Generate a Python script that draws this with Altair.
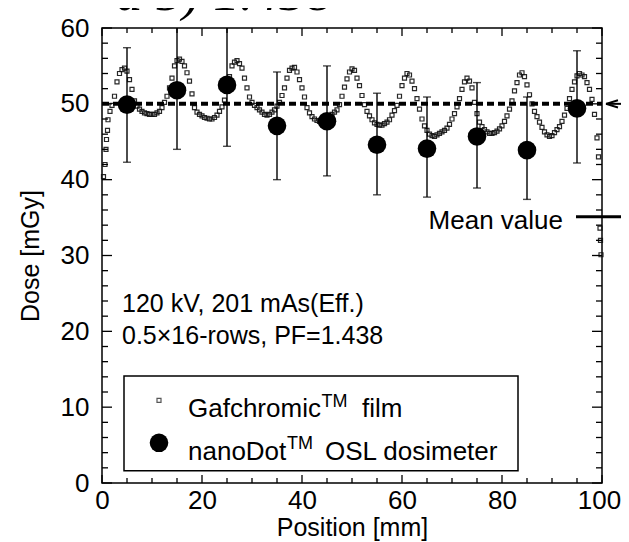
import altair as alt
import pandas as pd

FONT = "Liberation Sans"

# ---------------- data ----------------
# Gafchromic film profile (dose in mGy vs position in mm)
film_edge_x = [0.3, 0.6, 0.8, 0.9, 1.1, 1.2, 1.6]
film_edge_y = [40.4, 42.0, 44.0, 45.3, 46.5, 47.9, 49.0]
# regular 0.5 mm samples from 2.0 mm to 99.0 mm
film_grid_y = [
    49.8, 51.0, 52.9, 54.0, 54.5, 54.7,
    54.3, 53.2, 51.9, 50.4, 49.7, 49.3, 49.0, 48.8, 48.7, 48.6,
    48.6, 48.6, 48.8, 49.0, 49.5, 50.2, 51.0, 52.1, 53.4, 55.0,
    55.7, 55.9, 55.6, 55.0, 54.1, 53.0, 51.3, 49.5, 48.9, 48.6,
    48.4, 48.2, 48.1, 48.0, 48.0, 48.2, 48.5, 49.0, 49.6, 50.5,
    51.8, 53.6, 55.0, 55.5, 55.7, 55.3, 54.7, 53.4, 52.1, 50.9,
    50.2, 49.8, 49.5, 49.2, 48.9, 48.6, 48.5, 48.6, 48.9, 49.2,
    49.7, 50.2, 51.1, 52.1, 53.4, 54.4, 54.7, 54.8, 54.2, 53.2,
    52.1, 50.9, 49.5, 48.8, 48.3, 48.0, 47.8, 47.7, 47.7, 47.8,
    48.0, 48.3, 48.6, 48.9, 49.2, 49.9, 51.0, 52.2, 53.3, 54.2,
    54.6, 54.4, 53.4, 52.4, 51.1, 49.9, 49.0, 48.4, 47.9, 47.5,
    47.3, 47.2, 47.2, 47.4, 47.6, 47.9, 48.5, 49.1, 49.8, 51.0,
    52.4, 53.4, 54.0, 53.8, 53.0, 52.0, 50.7, 49.3, 48.0, 47.1,
    46.5, 46.0, 45.8, 45.7, 45.9, 46.1, 46.3, 46.5, 46.8, 47.3,
    48.0, 48.7, 49.6, 50.7, 51.9, 52.9, 53.4, 53.0, 52.1, 50.2,
    48.7, 47.6, 47.0, 46.6, 46.3, 46.1, 46.1, 46.2, 46.4, 46.7,
    47.1, 47.7, 48.4, 49.3, 50.4, 51.7, 52.8, 53.8, 54.1, 53.6,
    52.5, 51.2, 50.0, 49.0, 48.3, 47.6, 46.9, 46.3, 45.9, 45.7,
    45.8, 46.2, 46.6, 47.0, 47.7, 48.5, 49.4, 50.7, 51.9, 52.9,
    53.7, 54.0, 53.8, 53.6, 52.8, 51.9, 50.6, 48.6, 45.5,
]
film_tail_x = [99.3, 99.6, 99.7, 99.8]
film_tail_y = [43.0, 33.6, 32.0, 30.1]

# nanoDot OSL dosimeter readings with error bars
osl_x = [5, 15, 25, 35, 45, 55, 65, 75, 85, 95]
osl_y = [49.9, 51.8, 52.5, 47.1, 47.7, 44.6, 44.1, 45.7, 43.9, 49.4]
osl_lo = [42.3, 44.0, 44.4, 40.0, 40.5, 38.0, 37.7, 38.9, 37.4, 42.2]
osl_hi = [57.4, 60.5, 60.5, 54.2, 55.0, 51.4, 50.9, 52.8, 50.9, 57.0]

mean_value = 50.0

x_ticks = [0, 20, 40, 60, 80, 100]
y_ticks = [0, 10, 20, 30, 40, 50, 60]

# ---------------- tables ----------------
film_grid_x = [2.0 + 0.5 * i for i in range(len(film_grid_y))]
film = pd.DataFrame({
    "x": film_edge_x + film_grid_x + film_tail_x,
    "y": film_edge_y + film_grid_y + film_tail_y,
})
osl = pd.DataFrame({"x": osl_x, "y": osl_y, "lo": osl_lo, "hi": osl_hi})

# inward tick segments of the frame (in data units)
px_x = 100 / 500.0   # mm per pixel
px_y = 60 / 455.0    # mGy per pixel
segs = []
for v in range(0, 61, 2):
    L = 10 if v % 10 == 0 else 6
    segs.append({"x": 0, "x2": L * px_x, "y": v, "y2": v})
    segs.append({"x": 100, "x2": 100 - L * px_x, "y": v, "y2": v})
for v in range(0, 101, 5):
    L = 8 if v % 20 == 0 else 5
    segs.append({"x": v, "x2": v, "y": 0, "y2": L * px_y})
    segs.append({"x": v, "x2": v, "y": 60, "y2": 60 - L * px_y})
ticks = pd.DataFrame(segs)

xs = alt.Scale(domain=[0, 100], nice=False, zero=False)
ys = alt.Scale(domain=[0, 60], nice=False, zero=False)

X = alt.X("x:Q", scale=xs, axis=alt.Axis(
    values=x_ticks, ticks=False, domain=False, grid=False, labelPadding=4,
    labelFlush=False, labelFont=FONT, labelFontSize=26, labelColor="black",
    labelOffset={"expr": "datum.value == 100 ? -3 : 0"},
    title="Position [mm]", titleFont=FONT, titleFontSize=25, titleFontWeight="normal",
    titleColor="black", titleX=250, titleY=52, titleBaseline="alphabetic",
    titleAlign="center"))
Y = alt.Y("y:Q", scale=ys, axis=alt.Axis(
    values=y_ticks, ticks=False, domain=False, grid=False, labelPadding=13,
    labelFlush=False, labelFont=FONT, labelFontSize=26, labelColor="black",
    title="Dose [mGy]", titleFont=FONT, titleFontSize=25, titleFontWeight="normal",
    titleColor="black", titleX=-72, titleY=227.5, titleAngle=270,
    titleBaseline="middle", titleAlign="center"))

base_x = alt.X("x:Q", scale=xs)
base_y = alt.Y("y:Q", scale=ys)

film_layer = alt.Chart(film).mark_point(
    shape="square", filled=False, size=16, strokeWidth=1.2, color="#111", opacity=0.9
).encode(x=X, y=Y)

mean_line = alt.Chart(pd.DataFrame({"x": [0], "x2": [100], "y": [mean_value]})).mark_rule(
    color="black", strokeWidth=4, strokeDash=[7, 4]
).encode(x=base_x, x2="x2:Q", y=base_y)

err = alt.Chart(osl).mark_rule(color="black", strokeWidth=1.4, clip=True).encode(
    x=base_x, y=alt.Y("lo:Q", scale=ys), y2="hi:Q")
cap_lo = alt.Chart(osl).mark_tick(color="black", orient="horizontal", size=8,
                                  thickness=1.4, clip=True).encode(
    x=base_x, y=alt.Y("lo:Q", scale=ys))
cap_hi = alt.Chart(osl).mark_tick(color="black", orient="horizontal", size=8,
                                  thickness=1.4, clip=True).encode(
    x=base_x, y=alt.Y("hi:Q", scale=ys))
dots = alt.Chart(osl).mark_circle(size=346, color="black", opacity=1).encode(
    x=base_x, y=base_y)

tick_layer = alt.Chart(ticks).mark_rule(color="black", strokeWidth=1.3).encode(
    x=base_x, x2="x2:Q", y=base_y, y2="y2:Q")

# legend box
legend_box = alt.Chart(pd.DataFrame({"x": [4.4], "x2": [83.2], "y": [1.6], "y2": [14.1]})).mark_rect(
    fill="white", stroke="black", strokeWidth=1.5
).encode(x=base_x, x2="x2:Q", y=base_y, y2="y2:Q")
leg_sq = alt.Chart(pd.DataFrame({"x": [11.4], "y": [10.9]})).mark_point(
    shape="square", filled=False, size=16, strokeWidth=1.2, color="#111"
).encode(x=base_x, y=base_y)
leg_dot = alt.Chart(pd.DataFrame({"x": [11.4], "y": [5.3]})).mark_circle(
    size=346, color="black", opacity=1).encode(x=base_x, y=base_y)


def txt(df, size=26, align="left", baseline="alphabetic", font=FONT, style="normal"):
    return alt.Chart(pd.DataFrame(df)).mark_text(
        align=align, baseline=baseline, fontSize=size, font=font, fontStyle=style,
        color="black"
    ).encode(x=base_x, y=base_y, text="t:N")


texts = [
    txt({"x": [17.2], "y": [8.7], "t": ["Gafchromic"]}),
    txt({"x": [43.9], "y": [10.0], "t": ["TM"]}, size=18),
    txt({"x": [52.0], "y": [8.7], "t": ["film"]}),
    txt({"x": [17.2], "y": [3.0], "t": ["nanoDot"]}),
    txt({"x": [37.0], "y": [4.5], "t": ["TM"]}, size=18),
    txt({"x": [44.6], "y": [3.0], "t": ["OSL dosimeter"]}),
    txt({"x": [4.0], "y": [23.6], "t": ["120 kV, 201 mAs(Eff.)"]}, size=25, baseline="middle"),
    txt({"x": [4.0], "y": [19.4], "t": ["0.5×16-rows, PF=1.438"]}, size=25, baseline="middle"),
    txt({"x": [92.2], "y": [34.6], "t": ["Mean value"]}, align="right", baseline="middle"),
    txt({"x": [2.8], "y": [62.4], "t": ["a 5)  1.438"]}, size=53,
        font="Liberation Serif", style="italic"),
]

mean_ptr = alt.Chart(pd.DataFrame({"x": [94.8], "x2": [103.8], "y": [35.1]})).mark_rule(
    color="black", strokeWidth=3).encode(x=base_x, x2="x2:Q", y=base_y)
arrow_line = alt.Chart(pd.DataFrame({"x": [100.8], "x2": [103.8], "y": [mean_value]})).mark_rule(
    color="black", strokeWidth=2).encode(x=base_x, x2="x2:Q", y=base_y)
arrow_head = alt.Chart(pd.DataFrame({"x": [102.0], "y": [mean_value]})).mark_point(
    shape="M-1,0L1,-0.6M-1,0L1,0.6", filled=False, size=144, strokeWidth=2, color="black",
    opacity=1).encode(x=base_x, y=base_y)

chart = alt.layer(
    film_layer, mean_line, err, cap_lo, cap_hi, dots, tick_layer,
    legend_box, leg_sq, leg_dot, *texts, mean_ptr, arrow_line, arrow_head
).properties(
    width=500, height=455,
    background="white",
    autosize=alt.AutoSizeParams(type="none"),
    padding={"left": 94, "top": 20, "right": 19, "bottom": 59},
).configure_view(
    stroke="black", strokeWidth=1.5
)

chart.save("out.html", embed_options={"renderer": "svg", "actions": False})
